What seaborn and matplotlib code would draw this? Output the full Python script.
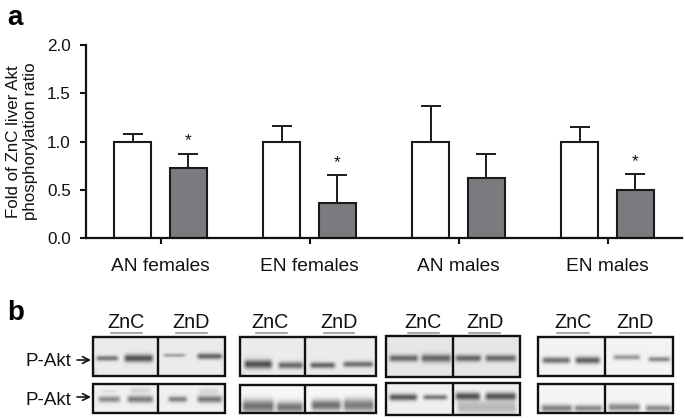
import matplotlib
matplotlib.use('Agg')
import matplotlib.pyplot as plt
from matplotlib.patches import Rectangle
import numpy as np
import pandas as pd
import seaborn as sns

groups = ['AN females', 'EN females', 'AN males', 'EN males']
zn_levels = ['ZnC', 'ZnD']
znc_values = [1.0, 1.0, 1.0, 1.0]
znd_values = [0.73, 0.36, 0.62, 0.50]
znc_tops = [1.08, 1.16, 1.37, 1.15]
znd_tops = [0.87, 0.65, 0.87, 0.66]
znd_stars = [True, True, False, True]
y_ticks = [0.0, 0.5, 1.0, 1.5, 2.0]
y_label = 'Fold of ZnC liver Akt\nphosphorylation ratio'

# blot panels, all in pixels of the original picture
box_x = [(93, 158, 225), (240, 305, 376), (386, 453, 520), (538, 605, 673)]
top_y = [(337, 376), (337, 376), (336, 377), (337, 376)]
bottom_y = [(384, 413), (385, 413), (383, 415), (384, 413)]
top_bg = [0.92, 0.92, 0.90, 0.95]
bottom_bg = [0.94, 0.97, 0.94, 0.96]
# band: x start, x end, y centre, half thickness, darkness
top_bands = [
    [(94, 120, 358, 2.6, 0.45), (122, 155, 358, 3.8, 0.60), (161, 187, 355, 1.8, 0.28), (195, 224, 356, 3.0, 0.52),
     (93, 97, 372, 3.5, 0.45)],
    [(242, 274, 364, 4.4, 0.60), (276, 305, 365, 3.4, 0.50), (308, 337, 365, 3.0, 0.52), (341, 375, 364, 3.0, 0.48),
     (241, 245, 374, 2.0, 0.55)],
    [(387, 420, 358, 3.4, 0.48), (419, 453, 358, 4.0, 0.50), (453, 483, 358, 3.4, 0.50), (483, 518, 358, 3.4, 0.48)],
    [(540, 572, 360, 3.2, 0.50), (573, 602, 360, 3.6, 0.56), (611, 642, 357, 2.6, 0.34), (646, 672, 359, 2.6, 0.40)],
]
bottom_bands = [
    [(96, 122, 399, 3.2, 0.38), (125, 155, 399, 3.6, 0.44), (166, 189, 399, 3.0, 0.42), (195, 224, 399, 3.6, 0.46),
     (100, 118, 391, 1.5, 0.08), (128, 152, 390, 3.0, 0.10), (197, 220, 391, 3.0, 0.10)],
    [(240, 276, 406, 6.5, 0.52), (274, 305, 407, 5.5, 0.50), (309, 343, 405, 5.5, 0.52), (341, 376, 405, 6.5, 0.48)],
    [(387, 419, 397, 3.4, 0.58), (421, 449, 397, 2.6, 0.46), (453, 482, 396, 3.8, 0.60), (483, 518, 396, 3.8, 0.58),
     (455, 518, 407, 7.0, 0.22)],
    [(539, 574, 408, 3.6, 0.45), (572, 604, 408, 3.4, 0.42), (606, 642, 407, 3.8, 0.42), (643, 673, 408, 3.4, 0.40)],
]
lane_labels = [(126, 191), (270, 339), (423, 485), (573, 635)]
lane_lines = [((111, 142), (176, 207)), ((256, 287), (324, 354)), ((408, 439), (469, 500)), ((557, 589), (620, 651))]
blot_rows = [(360, 366), (397, 405)]  # arrow y, text baseline

sns.set_theme(style='ticks')
plt.rcParams['font.family'] = ['Liberation Sans', 'DejaVu Sans']
plt.rcParams['text.color'] = '#111111'

W, H = 685, 418
fig = plt.figure(figsize=(W / 100, H / 100), dpi=100, facecolor='white')
ax = fig.add_axes([86 / W, (H - 238) / H, 596 / W, 193 / H])

df = pd.DataFrame({
    'group': groups * 2,
    'zn': ['ZnC'] * 4 + ['ZnD'] * 4,
    'value': znc_values + znd_values,
})
sns.barplot(data=df, x='group', y='value', hue='zn', order=groups, hue_order=zn_levels,
            palette={'ZnC': 'white', 'ZnD': '#7a7b7e'}, edgecolor='#1a1a1a', linewidth=1.5,
            width=0.75, gap=1 / 3, saturation=1, errorbar=None, legend=False, ax=ax)

for container, values, tops in zip(ax.containers, [znc_values, znd_values], [znc_tops, znd_tops]):
    xs = [bar.get_x() + bar.get_width() / 2 for bar in container]
    errs = np.array(tops) - np.array(values)
    ax.errorbar(xs, values, yerr=[np.zeros(4), errs], fmt='none', ecolor='#1a1a1a',
                elinewidth=1.4, capsize=7, capthick=1.4, zorder=1)

znd_xs = [bar.get_x() + bar.get_width() / 2 for bar in ax.containers[1]]
for x, top, star in zip(znd_xs, znd_tops, znd_stars):
    if star:
        ax.annotate('*', (x, top), xytext=(0, 4), textcoords='offset points', ha='center',
                    va='bottom', fontsize=12.5)

ax.set_xlim(-0.5, 3.5)
ax.set_ylim(0, 2)
ax.set_yticks(y_ticks)
ax.set_yticklabels([f'{t:.1f}' for t in y_ticks])
ax.set_xlabel('')
ax.set_ylabel(y_label, fontsize=12.2, linespacing=1.15, labelpad=6.5, color='#111111')
ax.tick_params(axis='y', labelsize=12.3, length=4.5, width=1.5, pad=6.5, color='#111111', labelcolor='#111111')
ax.tick_params(axis='x', labelsize=13.8, length=4.5, width=1.5, pad=10, color='#111111', labelcolor='#111111')
sns.despine(ax=ax)
for side in ['left', 'bottom']:
    ax.spines[side].set_linewidth(1.6)
    ax.spines[side].set_color('#111111')


def blot_image(x0, x1, y0, y1, bg, bands):
    xx, yy = np.meshgrid(np.arange(x0, x1, 0.5), np.arange(y0, y1, 0.5))
    img = np.full(xx.shape, bg, dtype=float)
    for bx0, bx1, yc, half, dark in bands:
        across = np.exp(-((yy - yc) / half) ** 2)
        along = np.clip((xx - bx0) / 5, 0, 1) * np.clip((bx1 - xx) / 5, 0, 1)
        img -= dark * across * along
    return np.clip(img, 0, 1)


# panel b is drawn on one overlay axes that counts in picture pixels
blot = fig.add_axes([0, 0, 1, 1], facecolor='none')
for i, (x0, xm, x1) in enumerate(box_x):
    rows = [(top_y[i], top_bg[i], top_bands[i]), (bottom_y[i], bottom_bg[i], bottom_bands[i])]
    for (y0, y1), bg, bands in rows:
        blot.imshow(blot_image(x0, x1, y0, y1, bg, bands), extent=(x0, x1, y1, y0), cmap='gray',
                    vmin=0, vmax=1, interpolation='bilinear', aspect='auto')
        blot.add_patch(Rectangle((x0, y0), x1 - x0, y1 - y0, fill=False, edgecolor='#111111', linewidth=1.7))
        blot.plot([xm, xm], [y0, y1], color='#111111', linewidth=1.7)
    for cx, name in zip(lane_labels[i], zn_levels):
        blot.text(cx, 322, name, fontsize=14.2, ha='center', va='center')
    for a, b in lane_lines[i]:
        blot.plot([a, b], [333, 333], color='#a8a8aa', linewidth=1.5)

for arrow_y, base_y in blot_rows:
    blot.text(26, base_y, 'P-Akt', fontsize=13.5, ha='left', va='baseline')
    blot.annotate('', xy=(91, arrow_y), xytext=(77, arrow_y),
                  arrowprops=dict(arrowstyle='->', color='#111111', lw=1.2, shrinkA=0, shrinkB=0))

blot.text(7, 25, 'a', fontsize=20, fontweight='bold', color='black', ha='left', va='baseline')
blot.text(7, 320, 'b', fontsize=20, fontweight='bold', color='black', ha='left', va='baseline')
blot.set_xlim(0, W)
blot.set_ylim(H, 0)
blot.axis('off')

fig.savefig('out.png', dpi=100)
